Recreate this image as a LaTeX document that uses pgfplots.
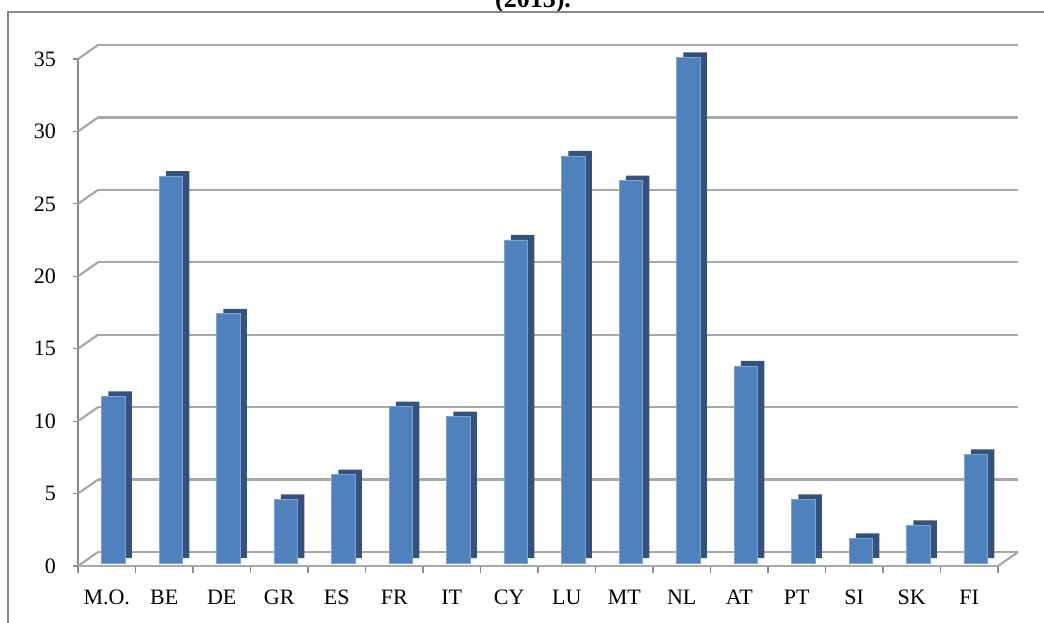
\documentclass[border=0pt]{standalone}
\usepackage{pgfplots}
\pgfplotsset{compat=1.18}
\usepackage{pgfplotstable}
\usepackage{fontspec}
\setmainfont{Liberation Serif}

\definecolor{barblue}{HTML}{4F81BD}
\definecolor{barside}{HTML}{34527D}
\definecolor{baredge}{HTML}{7FA2CE}
\definecolor{gridgray}{HTML}{A8A8A8}
\definecolor{axgray}{HTML}{8A8A8A}

% share of ... by country (2013)
\pgfplotstableread{
x v
0 11.5
1 26.7
2 17.2
3 4.4
4 6.1
5 10.8
6 10.1
7 22.3
8 28.1
9 26.4
10 34.9
11 13.6
12 4.4
13 1.7
14 2.6
15 7.5
}\rates

\pgfplotsset{
  base/.style={width=460pt, height=253.5pt, scale only axis,
    xmin=-0.5, xmax=15.5, ymin=0, ymax=35, anchor=south west},
  barsonly/.style={base, hide axis, clip=false},
}

\begin{document}
\begin{tikzpicture}[x=1pt,y=1pt]
\useasboundingbox (0,0) rectangle (522,311);
\clip (0,0) rectangle (522,311);
\node[anchor=base, font=\fontsize{13}{15}\selectfont\bfseries] at (266.5,307) {(2013).};
\draw[axgray, line width=0.6pt] (4,-2) -- (4,305) -- (525,305);

% back wall
\begin{axis}[base, at={(49pt,35pt)},
    axis line style={draw=none}, tick style={draw=none},
    xtick=\empty, ytick={0,5,...,35}, yticklabels={},
    ymajorgrids, grid style={gridgray, line width=1.1pt}]
\end{axis}

% front plane: axis lines, ticks, labels
\begin{axis}[base, at={(39pt,28pt)},
    axis x line*=bottom, axis y line*=left,
    y axis line style={axgray, line width=0.6pt},
    x axis line style={gridgray, line width=1.1pt},
    tick align=outside,
    xtick={0,...,15},
    xticklabels={M.O.,BE,DE,GR,ES,FR,IT,CY,LU,MT,NL,AT,PT,SI,SK,FI},
    major x tick style={draw=none},
    minor xtick={-0.5,0.5,...,15.5},
    minor tick length=3.5pt,
    ytick={0,5,...,35},
    major tick length=2.5pt,
    tick style={axgray, line width=0.6pt},
    /pgf/number format/assume math mode=true,
    tick label style={font=\fontsize{11}{13}\selectfont},
    xticklabel style={yshift=-6pt},
    yticklabel style={xshift=-5pt},
    clip=false]
\pgfplotsinvokeforeach{0,5,...,35}{
  \draw[gridgray, line width=1.1pt] (axis cs:-0.5,#1) -- ++(10pt,7pt);
}
\draw[gridgray, line width=1.1pt] (axis cs:15.5,0) -- ++(10pt,7pt);
\end{axis}

% side and top faces of the columns
\begin{axis}[barsonly, at={(42.25pt,32pt)}]
\addplot[ybar, bar width=11.75pt, bar shift=3.4pt, fill=barside, draw=none] table[x=x, y=v] {\rates};
\end{axis}

% front faces of the columns
\begin{axis}[barsonly, at={(39pt,29.5pt)}]
\addplot[ybar, bar width=11.75pt, bar shift=3.4pt, fill=barblue, draw=baredge, line width=0.4pt] table[x=x, y=v] {\rates};
\end{axis}
\end{tikzpicture}
\end{document}
